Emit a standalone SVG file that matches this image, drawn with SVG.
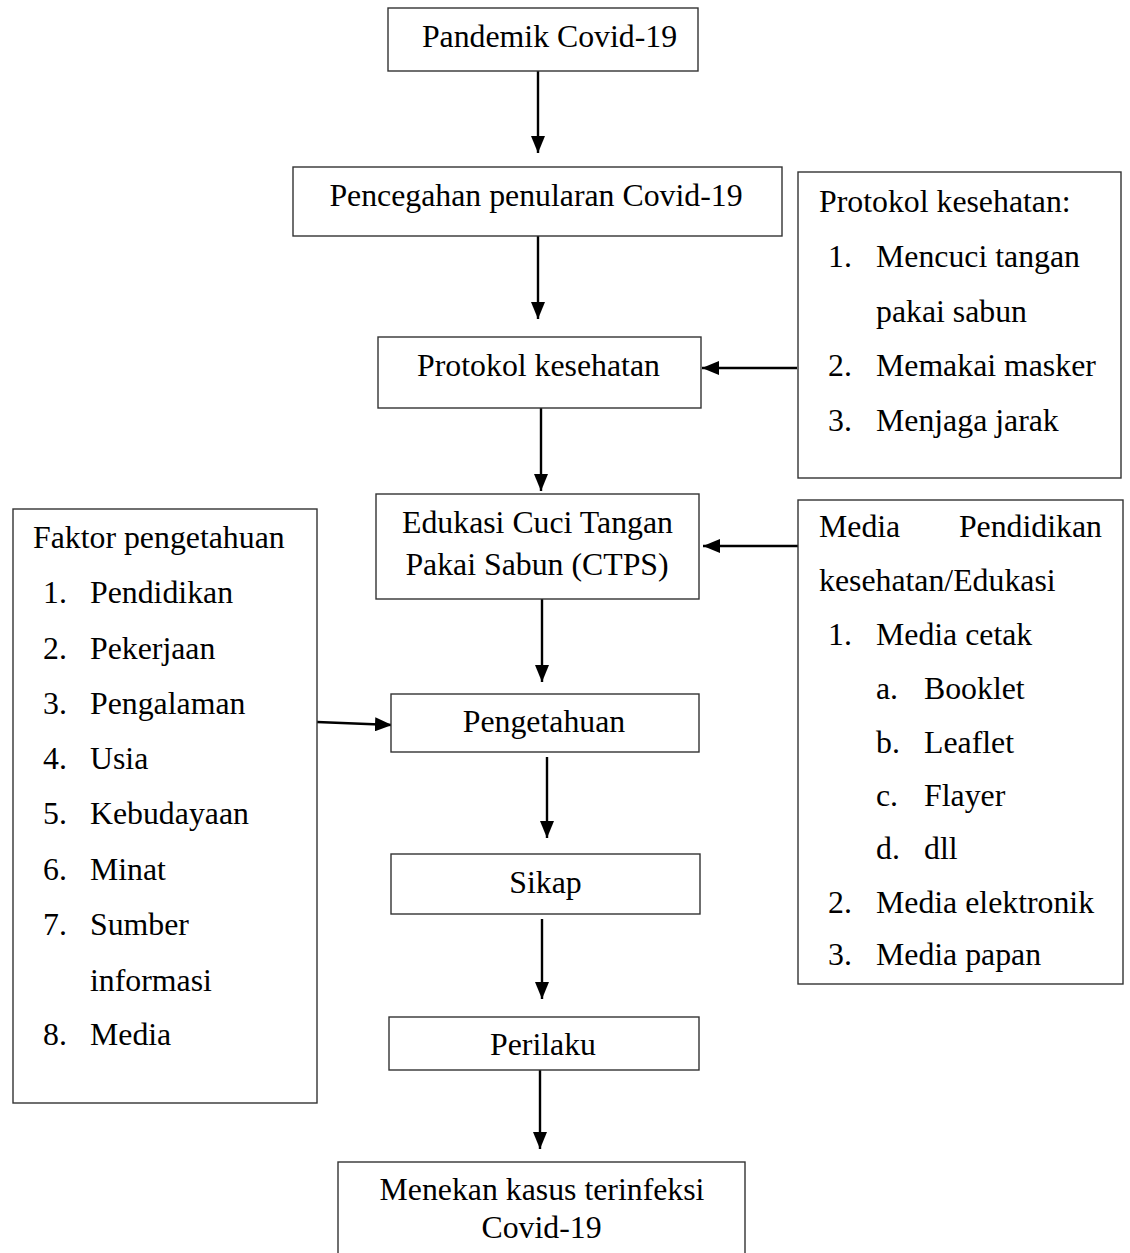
<svg xmlns="http://www.w3.org/2000/svg" width="1130" height="1253" viewBox="0 0 1130 1253">
<style>
.box{fill:#fff;stroke:#333;stroke-width:1.4}
text{font-family:"Liberation Serif","Times New Roman",serif;font-size:31.8px;fill:#000}
.c{text-anchor:middle}
.e{text-anchor:end}
.ar{stroke:#000;stroke-width:2.4;fill:none;marker-end:url(#ah)}
</style>
<defs>
<marker id="ah" markerWidth="17" markerHeight="14" refX="17" refY="7" orient="auto" markerUnits="userSpaceOnUse" viewBox="0 0 17 14">
<path d="M0,0 L17,7 L0,14 Z" fill="#000"/>
</marker>
</defs>
<rect width="1130" height="1253" fill="#fff"/>
<g id="connectors">
<line class="ar" x1="538" y1="71" x2="538" y2="153"/>
<line class="ar" x1="538" y1="236" x2="538" y2="319"/>
<line class="ar" x1="797" y1="368" x2="702" y2="368"/>
<line class="ar" x1="541" y1="408" x2="541" y2="491"/>
<line class="ar" x1="800" y1="546" x2="703" y2="546"/>
<line class="ar" x1="542" y1="599" x2="542" y2="682"/>
<line class="ar" x1="317" y1="722" x2="392" y2="725"/>
<line class="ar" x1="547" y1="757" x2="547" y2="838"/>
<line class="ar" x1="542" y1="919" x2="542" y2="999"/>
<line class="ar" x1="540" y1="1070" x2="540" y2="1149"/>
</g>
<g id="n1"><rect class="box" x="388" y="8" width="310" height="63"/><text class="c" x="549.5" y="47">Pandemik Covid-19</text></g>
<g id="n2"><rect class="box" x="293" y="167" width="489" height="69"/><text class="c" x="536" y="206">Pencegahan penularan Covid-19</text></g>
<g id="n3"><rect class="box" x="378" y="337" width="323" height="71"/><text class="c" x="538.5" y="376">Protokol kesehatan</text></g>
<g id="n4"><rect class="box" x="376" y="494" width="323" height="105"/><text class="c" x="537.5" y="533">Edukasi Cuci Tangan</text><text class="c" x="537" y="575">Pakai Sabun (CTPS)</text></g>
<g id="n5"><rect class="box" x="391" y="694" width="308" height="58"/><text class="c" x="544" y="732">Pengetahuan</text></g>
<g id="n6"><rect class="box" x="391" y="854" width="309" height="60"/><text class="c" x="545.5" y="893">Sikap</text></g>
<g id="n7"><rect class="box" x="389" y="1017" width="310" height="53"/><text class="c" x="543" y="1055">Perilaku</text></g>
<g id="n8"><rect class="box" x="338" y="1162" width="407" height="100"/><text class="c" x="542" y="1200">Menekan kasus terinfeksi</text><text class="c" x="541.5" y="1238">Covid-19</text></g>
<g id="protokol-list"><rect class="box" x="798" y="172" width="323" height="306"/>
<text x="819" y="212">Protokol kesehatan:</text>
<text x="828" y="267">1.</text><text x="876" y="267">Mencuci tangan</text>
<text x="876" y="322">pakai sabun</text>
<text x="828" y="376">2.</text><text x="876" y="376">Memakai masker</text>
<text x="828" y="431">3.</text><text x="876" y="431">Menjaga jarak</text>
</g>
<g id="faktor-list"><rect class="box" x="13" y="509" width="304" height="594"/>
<text x="33" y="548">Faktor pengetahuan</text>
<text x="43" y="603">1.</text><text x="90" y="603">Pendidikan</text>
<text x="43" y="659">2.</text><text x="90" y="659">Pekerjaan</text>
<text x="43" y="714">3.</text><text x="90" y="714">Pengalaman</text>
<text x="43" y="769">4.</text><text x="90" y="769">Usia</text>
<text x="43" y="824">5.</text><text x="90" y="824">Kebudayaan</text>
<text x="43" y="880">6.</text><text x="90" y="880">Minat</text>
<text x="43" y="935">7.</text><text x="90" y="935">Sumber</text>
<text x="90" y="991">informasi</text>
<text x="43" y="1045">8.</text><text x="90" y="1045">Media</text>
</g>
<g id="media-list"><rect class="box" x="798" y="500" width="325" height="484"/>
<text x="819" y="537">Media</text><text class="e" x="1102" y="537">Pendidikan</text>
<text x="819" y="591">kesehatan/Edukasi</text>
<text x="828" y="645">1.</text><text x="876" y="645">Media cetak</text>
<text x="876" y="699">a.</text><text x="924" y="699">Booklet</text>
<text x="876" y="753">b.</text><text x="924" y="753">Leaflet</text>
<text x="876" y="806">c.</text><text x="924" y="806">Flayer</text>
<text x="876" y="859">d.</text><text x="924" y="859">dll</text>
<text x="828" y="913">2.</text><text x="876" y="913">Media elektronik</text>
<text x="828" y="965">3.</text><text x="876" y="965">Media papan</text>
</g>
</svg>
